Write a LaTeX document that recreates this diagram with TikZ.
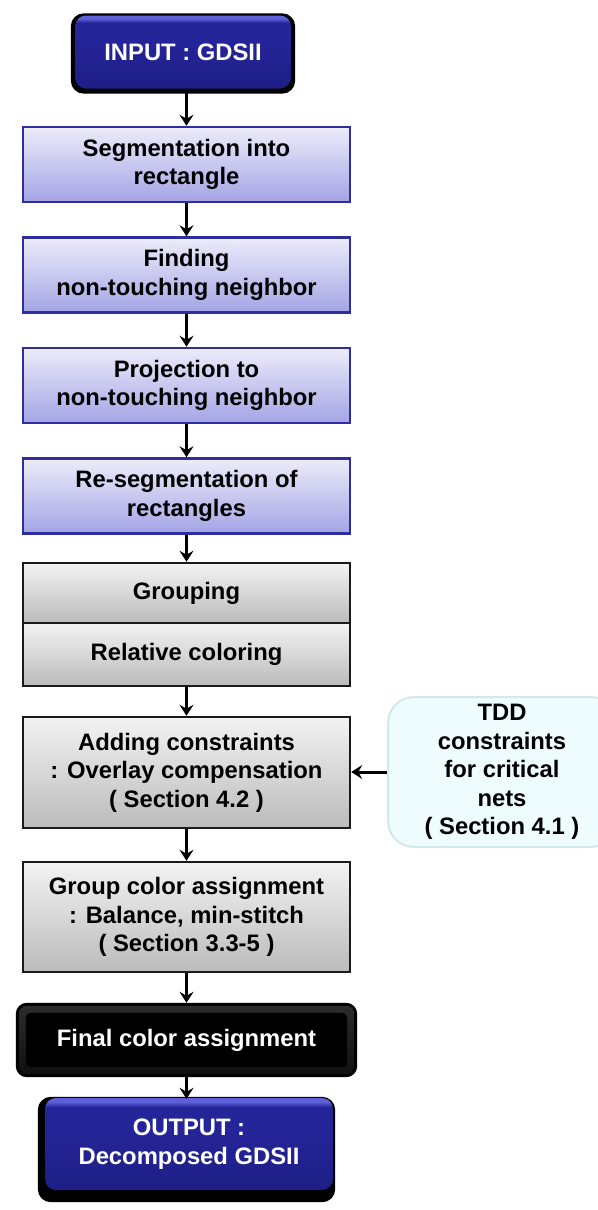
\documentclass[tikz,border=0pt]{standalone}
\usepackage{fontspec}
\setmainfont{Liberation Sans}
\usetikzlibrary{arrows.meta,calc,backgrounds}

\definecolor{procTop}{HTML}{ECECFA}
\definecolor{procBot}{HTML}{A4A4E6}
\definecolor{procLine}{HTML}{2E2E9C}
\definecolor{grayTop}{HTML}{F3F3F3}
\definecolor{grayBot}{HTML}{BBBBBB}
\definecolor{grayLine}{HTML}{1A1A1A}
\definecolor{ioDark}{HTML}{1E1E86}
\definecolor{ioBlue}{HTML}{25259A}
\definecolor{ioLight}{HTML}{6060DA}
\definecolor{tddFill}{HTML}{EEFCFE}
\definecolor{tddLine}{HTML}{D2E8EA}
\definecolor{bevelTop}{HTML}{2C2C2C}
\definecolor{bevelBot}{HTML}{101010}

% glossy blue fill for the input/output terminals
\pgfdeclareverticalshading{ioshade}{100bp}{%
  color(0bp)=(ioDark); color(25bp)=(ioDark); color(60bp)=(ioBlue);
  color(70bp)=(ioBlue); color(73bp)=(ioLight); color(100bp)=(ioLight)}

\tikzset{
  base/.style={align=center, inner sep=0pt,
    font=\bfseries\fontsize{23.8}{28.5}\selectfont},
  proc/.style={base, draw=procLine, line width=2.5pt,
    top color=procTop, bottom color=procBot,
    minimum width=327pt, minimum height=75pt},
  graybox/.style={base, draw=grayLine, line width=2.5pt,
    top color=grayTop, bottom color=grayBot, minimum width=327pt},
  terminal/.style={base, text=white, shading=ioshade,
    rounded corners=11pt},
  darkbox/.style={base, text=white},
  note/.style={base, draw=tddLine, line width=2pt, fill=tddFill,
    rounded corners=26pt, minimum width=228pt, minimum height=150pt},
  arr/.style={line width=3pt, -{Stealth[length=11pt,width=14pt,inset=4pt]}}
}

\begin{document}
\begin{tikzpicture}[x=1pt,y=-1pt]
\useasboundingbox (0,0) rectangle (597,1210);

% main flow
\node[terminal, minimum width=216pt, minimum height=73pt] (in) at (183,52) {INPUT : GDSII};
\node[proc] (s1) at (186.5,164.5) {Segmentation into\\rectangle};
\node[proc] (s2) at (186.5,275) {Finding\\non-touching neighbor};
\node[proc] (s3) at (186.5,385.5) {Projection to\\non-touching neighbor};
\node[proc] (s4) at (186.5,496) {Re-segmentation of\\rectangles};
\node[graybox, minimum height=60pt] (grp) at (186.5,593) {Grouping};
\node[graybox, minimum height=63pt] (rel) at (186.5,654.5) {Relative coloring};
\node[graybox, minimum height=111pt] (add) at (186.5,772.5) {Adding constraints\\: Overlay compensation\\( Section 4.2 )};
\node[graybox, minimum height=110pt] (grpc) at (186.5,917) {Group color assignment\\: Balance, min-stitch\\( Section 3.3-5 )};
\node[darkbox, minimum width=341pt, minimum height=74pt] (fin) at (186.5,1040) {Final color assignment};
\node[terminal, minimum width=288pt, minimum height=92pt] (out) at (189,1144) {OUTPUT :\\Decomposed GDSII};

% side input
\node[note] (tdd) at (502,772) {TDD\\constraints\\for critical\\nets\\( Section 4.1 )};

% shadows and bevel behind the dark boxes
\begin{pgfonlayer}{background}
  \fill[black, rounded corners=13pt]
    ($(in.north west)+(-4pt,2pt)$) rectangle ($(in.south east)+(4pt,-5pt)$);
  \fill[black, rounded corners=13pt]
    ($(out.north west)+(-7pt,1pt)$) rectangle ($(out.south east)+(2pt,-12pt)$);
  \fill[black, rounded corners=11pt] (fin.north west) rectangle (fin.south east);
  \fill[top color=bevelTop, bottom color=bevelBot, rounded corners=8pt]
    ($(fin.north west)+(3pt,-3pt)$) rectangle ($(fin.south east)+(-3pt,3pt)$);
  \fill[black, rounded corners=5pt]
    ($(fin.north west)+(10pt,-10pt)$) rectangle ($(fin.south east)+(-10pt,10pt)$);
\end{pgfonlayer}

% connectors
\draw[arr] (in.south -| s1.north) -- (s1.north);
\draw[arr] (s1) -- (s2);
\draw[arr] (s2) -- (s3);
\draw[arr] (s3) -- (s4);
\draw[arr] (s4) -- (grp);
\draw[arr] (rel) -- (add);
\draw[arr] (add) -- (grpc);
\draw[arr] (grpc) -- (fin);
\draw[arr] (fin.south) -- ($(out.north -| fin.south)+(0,-1pt)$);
\draw[arr] (tdd.west) -- (tdd.west -| add.east);
\end{tikzpicture}
\end{document}
